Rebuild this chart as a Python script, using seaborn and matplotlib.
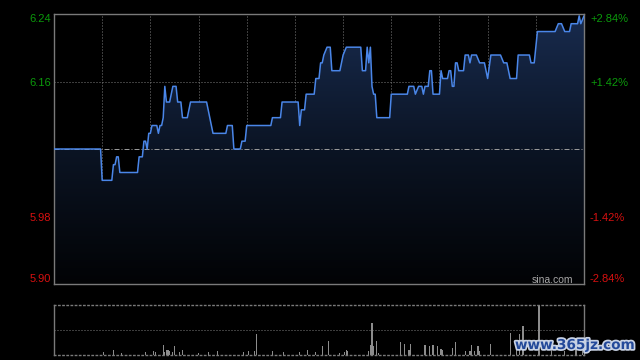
import numpy as np
import seaborn as sns
import matplotlib
matplotlib.use('Agg')
import matplotlib.pyplot as plt
import matplotlib.patheffects as pe
from matplotlib.colors import LinearSegmentedColormap
from matplotlib.patches import PathPatch

# intraday price (HK session, 330 trading minutes), vertices
prev_close = 6.07
pct_ticks = [2.84, 1.42, -1.42, -2.84]
price_labels = ['6.24', '6.16', '5.98', '5.90']
pct_labels = ['+2.84%', '+1.42%', '-1.42%', '-2.84%']

minutes = [0, 29, 30, 36, 37, 38, 39, 40, 41, 52, 53, 55, 56, 57, 58, 59, 60,
           61, 64, 65, 66, 67, 68, 69, 70, 72, 74, 76, 77, 79, 80, 83, 85, 95,
           96, 97, 98, 99, 107, 108, 111, 112, 116, 117, 119, 120, 135, 136, 141,
           142, 152, 153, 154, 156, 157, 162, 163, 165, 166, 167, 168, 170, 172,
           173, 178, 179, 180, 182, 191, 192, 194, 195, 196, 197, 198, 199, 200,
           201, 209, 210, 220, 221, 224, 225, 227, 229, 230, 231, 233, 234, 235,
           236, 240, 241, 242, 245, 246, 247, 248, 249, 250, 251, 252, 255, 256,
           258, 259, 260, 263, 265, 268, 270, 272, 278, 280, 282, 284, 288, 289,
           296, 297, 299, 301, 312, 314, 316, 318, 321, 322, 326, 327, 328, 330]
prices = [6.07, 6.07, 6.03, 6.03, 6.05, 6.05, 6.06, 6.06, 6.04, 6.04, 6.06, 6.06,
          6.08, 6.08, 6.07, 6.09, 6.09, 6.10, 6.10, 6.09, 6.10, 6.10, 6.11, 6.15,
          6.13, 6.13, 6.15, 6.15, 6.13, 6.13, 6.11, 6.11, 6.13, 6.13, 6.12, 6.11,
          6.10, 6.09, 6.09, 6.10, 6.10, 6.07, 6.07, 6.08, 6.08, 6.10, 6.10, 6.11,
          6.11, 6.13, 6.13, 6.10, 6.12, 6.12, 6.14, 6.14, 6.16, 6.16, 6.18, 6.18,
          6.19, 6.20, 6.20, 6.17, 6.17, 6.18, 6.19, 6.20, 6.20, 6.17, 6.17, 6.20,
          6.18, 6.20, 6.15, 6.14, 6.14, 6.11, 6.11, 6.14, 6.14, 6.15, 6.15, 6.14,
          6.15, 6.15, 6.14, 6.15, 6.15, 6.17, 6.17, 6.14, 6.14, 6.17, 6.16, 6.16,
          6.17, 6.17, 6.15, 6.15, 6.18, 6.18, 6.17, 6.17, 6.19, 6.19, 6.18, 6.19,
          6.19, 6.18, 6.18, 6.16, 6.19, 6.19, 6.18, 6.18, 6.16, 6.16, 6.19, 6.19,
          6.18, 6.18, 6.22, 6.22, 6.23, 6.23, 6.22, 6.22, 6.23, 6.23, 6.24, 6.23,
          6.24]

vol_minutes = [31, 37, 42, 57, 62, 63, 68, 69, 70, 71, 72, 74, 75, 78, 80, 90, 96,
               102, 118, 121, 125, 126, 136, 143, 153, 158, 163, 167, 171, 178, 181,
               182, 183, 196, 197, 198, 199, 201, 202, 216, 218, 221, 222, 231, 234,
               236, 239, 241, 242, 248, 250, 256, 259, 260, 262, 264, 265, 272, 284,
               288, 290, 292, 302, 310, 318, 325, 329]
vol_values = [2.3, 4.3, 1.5, 2, 3.3, 2, 9.3, 2, 4.3, 4.3, 3.3, 2, 8.3, 2, 4.3, 1.5,
              2.3, 3.3, 2, 3.3, 3.3, 20.7, 3.3, 2, 2.3, 4.3, 2, 8.3, 13.3, 1.5, 2.3,
              4.3, 3.3, 3.3, 9.3, 31.3, 8.3, 13.3, 1.5, 12.7, 10.3, 4.3, 10.3, 9.3,
              8.3, 9.3, 8.3, 5.3, 4.3, 6.3, 12, 3.3, 3.3, 9.3, 3.3, 8.3, 3.3, 10.3,
              21.3, 14, 20.3, 28.3, 49.6, 4, 3, 5, 6]

GRID = '#7a7a7a'
DOT = (0, (1, 2))
GREEN = '#0b9a0b'
RED = '#d81010'

sns.set_theme(style='dark', rc={'axes.facecolor': 'black', 'figure.facecolor': 'black',
                                'axes.edgecolor': GRID, 'grid.color': GRID})
plt.rcParams['font.family'] = ['Liberation Sans', 'DejaVu Sans']

fig = plt.figure(figsize=(6.4, 3.6), dpi=100)
ax = fig.add_axes([54 / 640, 1 - 284 / 360, 530 / 640, 270 / 360])
axv = fig.add_axes([54 / 640, 1 - 354.5 / 360, 530 / 640, 50 / 360])

lo = prev_close * (1 - 0.0284)
hi = prev_close * (1 + 0.0284)
tick_prices = [prev_close * (1 + p / 100) for p in pct_ticks]

# gradient fill under the price line
poly = ax.fill_between(minutes, prices, lo, color='none', lw=0)
clip = PathPatch(poly.get_paths()[0], transform=ax.transData, facecolor='none', edgecolor='none')
ax.add_patch(clip)
cmap = LinearSegmentedColormap.from_list('fill', ['#020305', '#0b1424', '#182b4e'])
im = ax.imshow(np.linspace(0, 1, 256).reshape(-1, 1), extent=[0, 330, lo, hi], origin='lower',
               aspect='auto', cmap=cmap, zorder=1)
im.set_clip_path(clip)

sns.lineplot(x=minutes, y=prices, ax=ax, color='#4a86e8', lw=1.1, estimator=None,
             sort=False, zorder=3)

ax.set_xlim(0, 330)
ax.set_ylim(lo, hi)
ax.set_xticks(range(0, 331, 30))
ax.set_xticklabels([])
ax.set_yticks(tick_prices)
ax.set_yticklabels(price_labels)
ax.grid(True, color=GRID, ls=DOT, lw=0.72)
ax.axhline(prev_close, color='#9a9a9a', ls=(0, (5, 2, 1, 2)), lw=0.72, zorder=2)
ax.tick_params(axis='both', length=0)
ax.tick_params(axis='y', pad=2.4, labelsize=8)
ax.set_xlabel('')
ax.set_ylabel('')
for sp in ax.spines.values():
    sp.set_color(GRID)
    sp.set_linewidth(1)
    sp.set_visible(True)
for lab, p in zip(ax.get_yticklabels(), pct_ticks):
    lab.set_color(GREEN if p > 0 else RED)
ax.get_yticklabels()[0].set_va('top')
ax.get_yticklabels()[-1].set_va('bottom')

ax2 = ax.twinx()
ax2.set_ylim(lo, hi)
ax2.set_yticks(tick_prices)
ax2.set_yticklabels(pct_labels)
ax2.grid(False)
ax2.tick_params(axis='y', length=0, pad=4.3, labelsize=8)
for sp in ax2.spines.values():
    sp.set_visible(False)
for lab, p in zip(ax2.get_yticklabels(), pct_ticks):
    lab.set_color(GREEN if p > 0 else RED)
ax2.get_yticklabels()[0].set_va('top')
ax2.get_yticklabels()[-1].set_va('bottom')

ax.text(0.979, 0.004, 'sina.com', transform=ax.transAxes, ha='right', va='baseline',
        color='#a8a8a8', fontsize=7.5, zorder=4)

# volume panel
axv.bar(vol_minutes, vol_values, width=0.7, color='#8c8c8c', lw=0)
axv.set_xlim(0, 330)
axv.set_ylim(0, max(vol_values))
axv.set_xticks([])
axv.set_yticks([max(vol_values) / 2])
axv.set_yticklabels([])
axv.tick_params(length=0)
axv.grid(True, axis='y', color=GRID, ls=DOT, lw=0.72)
for name, sp in axv.spines.items():
    sp.set_color(GRID)
    sp.set_linewidth(1)
    sp.set_visible(True)
    if name in ('top', 'bottom'):
        sp.set_linestyle(DOT)

fig.text(575 / 640, 1 - 345 / 360, 'www.365jz.com', ha='center', va='center',
         fontsize=9.8, fontweight='bold', color='#23499a', family='DejaVu Sans',
         path_effects=[pe.withStroke(linewidth=2.5, foreground='#c8d2e4')])

fig.savefig('out.png', dpi=100, facecolor='black')
